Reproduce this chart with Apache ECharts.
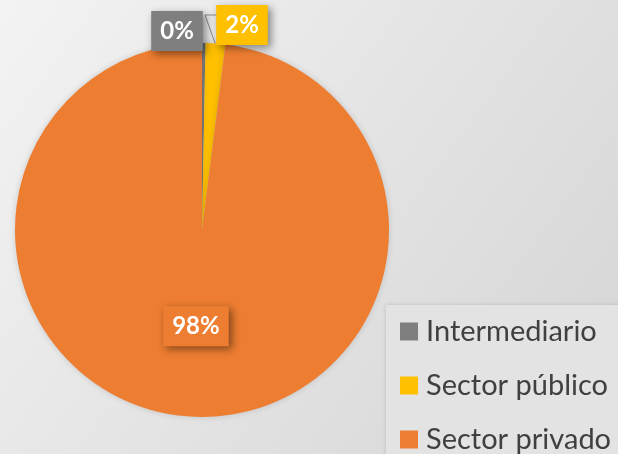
<!DOCTYPE html>
<html>
<head>
<meta charset="utf-8">
<script src="https://cdn.jsdelivr.net/npm/echarts@6/dist/echarts.min.js"></script>
<style>html,body{margin:0;padding:0;}#c{width:618px;height:454px;}</style>
</head>
<body>
<div id="c"></div>
<script>
const categories = ['Intermediario', 'Sector público', 'Sector privado'];
const values = [0.3, 1.7, 98.0];
const colors = ['#7f7f7f', '#ffc000', '#ed7d31'];

const cx = 202, cy = 230, R = 187;
const chart = echarts.init(document.getElementById('c'));
const font = 'Lato, "Open Sans", sans-serif';
const boxLabel = (c) => ({
  backgroundColor: c, color: '#fff', fontFamily: font, fontWeight: 'bold',
  fontSize: 24, padding: [8, 9, 8, 9],
  shadowColor: 'rgba(0,0,0,0.45)', shadowBlur: 8, shadowOffsetX: 3, shadowOffsetY: 3
});
chart.setOption({
  backgroundColor: {
    type: 'linear', x: 0, y: 0, x2: 1, y2: 1,
    colorStops: [{offset: 0, color: '#f3f3f3'}, {offset: 1, color: '#d4d4d4'}]
  },
  animation: false,
  legend: {
    orient: 'vertical', left: 386, top: 305, height: 180,
    backgroundColor: '#e3e3e3', padding: [12, 30, 30, 14],
    shadowColor: 'rgba(0,0,0,0.15)', shadowBlur: 4,
    itemWidth: 18, itemHeight: 18, itemGap: 25, icon: 'rect',
    textStyle: {fontFamily: font, fontSize: 29, color: '#404040', padding: [0, 0, 0, 3]},
    data: categories
  },
  series: [{
    type: 'pie', center: [cx, cy], radius: R, startAngle: 90, clockwise: true,
    itemStyle: {shadowColor: 'rgba(0,0,0,0.15)', shadowBlur: 6},
    data: categories.map((n, i) => ({
      name: n, value: values[i], itemStyle: {color: colors[i]},
      label: Object.assign(boxLabel(colors[i]), {position: i === 2 ? 'inside' : 'outside'}),
      labelLine: {show: i === 1, lineStyle: {color: '#8c8c8c', width: 1}}
    })),
    label: {
      formatter: p => Math.round(p.percent) + '%'
    },
    labelLayout: function (p) {
      if (p.dataIndex === 0) return {x: cx - 25, y: cy - 199, align: 'center', verticalAlign: 'middle'};
      if (p.dataIndex === 1) return {
        x: cx + 40, y: cy - 205, align: 'center', verticalAlign: 'middle',
        labelLinePoints: [[cx + 13, cy - R], [cx + 3, cy - 215], [cx + 16, cy - 215]]
      };
      return {};
    }
  }]
});
</script>
</body>
</html>
